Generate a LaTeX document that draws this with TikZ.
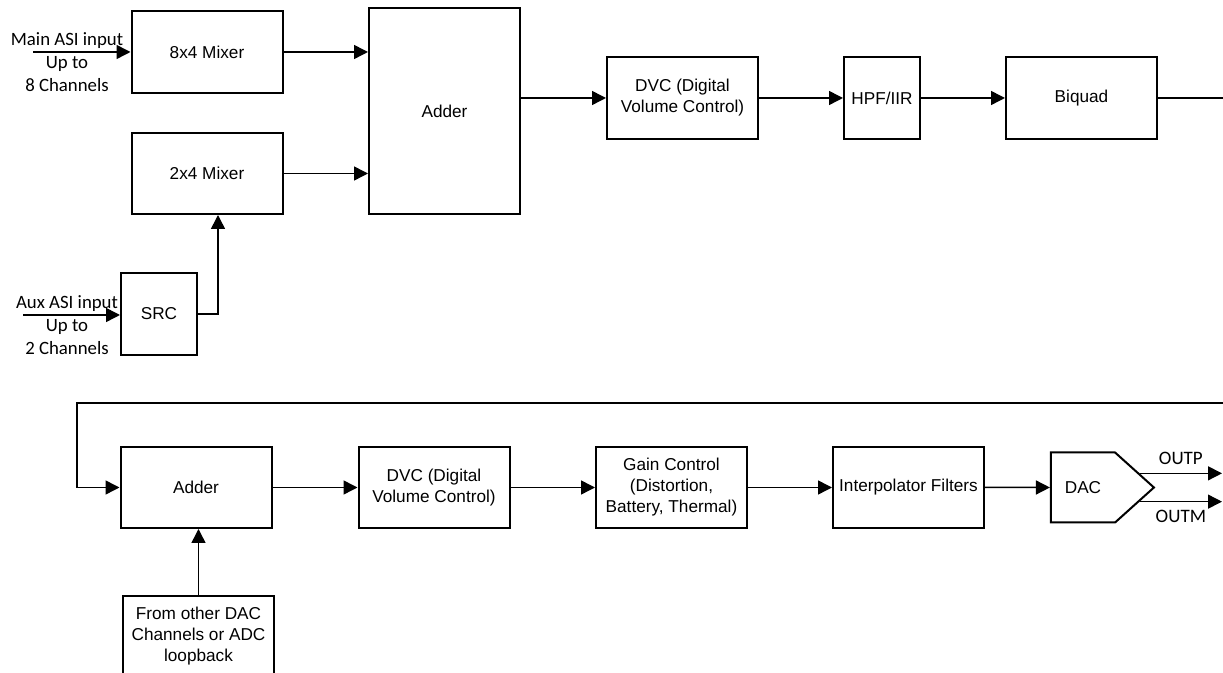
\documentclass[tikz,border=0pt]{standalone}
\usepackage{fontspec}
\setmainfont{Liberation Sans}
\newfontfamily\calibri{Carlito}
\usetikzlibrary{arrows.meta,positioning,calc,shapes.symbols}
\definecolor{dspedge}{RGB}{0,0,0}
\tikzset{
  blk/.style={
    draw=dspedge, line width=1pt, align=center, inner sep=2pt,
    font=\fontsize{8.6}{10.5}\selectfont,
    minimum width=75.5pt, minimum height=41pt
  },
  narrow/.style={blk, minimum width=38pt},
  arr/.style={-{Triangle[length=7pt,width=7pt]}, draw=dspedge, line width=0.75pt},
  wire/.style={draw=dspedge, line width=0.75pt},
  inlbl/.style={font=\calibri\fontsize{9.4}{11.5}\selectfont, align=center, inner sep=0pt},
  outlbl/.style={font=\calibri\fontsize{9.5}{11}\selectfont, inner sep=4pt}
}
\begin{document}
\begin{tikzpicture}[x=0.5pt, y=-0.5pt]
  \useasboundingbox (0,0) rectangle (1223,673);
  % upper chain
  \node[blk] (mix8) at (207,52) {8x4 Mixer};
  \node[blk, minimum height=40.5pt] (mix2) at (207,173.5) {2x4 Mixer};
  \node[narrow] (src) at (159,314) {SRC};
  \node[blk, minimum height=103pt] (add1) at (444.5,111) {Adder};
  \node[blk] (dvc1) at (682.5,98) {DVC (Digital\\Volume Control)};
  \node[narrow] (hpf) at (882,98) {HPF/IIR};
  \node[blk] (biquad) at (1081.5,98) {Biquad};
  % inputs
  \node[inlbl] (mainlbl) at (67,62) {Main ASI input\\Up to\\8 Channels};
  \node[inlbl] (auxlbl) at (67,325.5) {Aux ASI input\\Up to\\2 Channels};
  \coordinate (mainin) at (33,52);
  \coordinate (auxin) at (23,315);
  \coordinate (edgeA) at (1223,98);
  \coordinate (edgeB) at (1223,403);
  \coordinate (loop) at (77,403);
  \draw[arr] (mainin) -- (mix8.west);
  \draw[arr] (auxin) -- (auxin -| src.west);
  \draw[arr] (src.east) -| ($(mix2.south)+(11,0)$);
  \draw[arr] (mix8.east) -- (mix8.east -| add1.west);
  \draw[arr] (mix2.east) -- (mix2.east -| add1.west);
  \draw[arr] (dvc1.west -| add1.east) -- (dvc1.west);
  \draw[arr] (dvc1) -- (hpf);
  \draw[arr] (hpf) -- (biquad);
  \draw[wire] (biquad.east) -- (edgeA);
  % lower chain
  \node[blk, minimum height=40.5pt] (add2) at (196,487.5) {Adder};
  \node[blk, minimum height=40.5pt] (dvc2) at (434,487.5) {DVC (Digital\\Volume Control)};
  \node[blk, minimum height=40.5pt] (gain) at (671.5,487.5) {Gain Control\\(Distortion,\\Battery, Thermal)};
  \node[blk, minimum height=40.5pt] (interp) at (908.5,487.5) {Interpolator Filters};
  \node[blk, signal, signal to=east, signal pointer angle=84,
        minimum width=51.5pt, minimum height=35pt] (dac) at (1083,487.5) {DAC};
  \node[blk, minimum height=39.5pt] (loopin) at (198.5,636) {From other DAC\\Channels or ADC\\loopback};
  \coordinate (outp) at (1222,473);
  \coordinate (outm) at (1222,499);
  \draw[arr] (edgeB) -- (loop) |- (add2.west);
  \draw[arr] (loopin.north) -- (loopin.north |- add2.south);
  \draw[arr] (add2) -- (dvc2);
  \draw[arr] (dvc2) -- (gain);
  \draw[arr] (gain) -- (interp);
  \draw[arr] (interp) -- (dac);
  \draw[arr] (dac.14) -- node[outlbl, above] {OUTP} (dac.14 -| outp);
  \draw[arr] (dac.-14) -- node[outlbl, below] {OUTM} (dac.-14 -| outm);
\end{tikzpicture}
\end{document}
